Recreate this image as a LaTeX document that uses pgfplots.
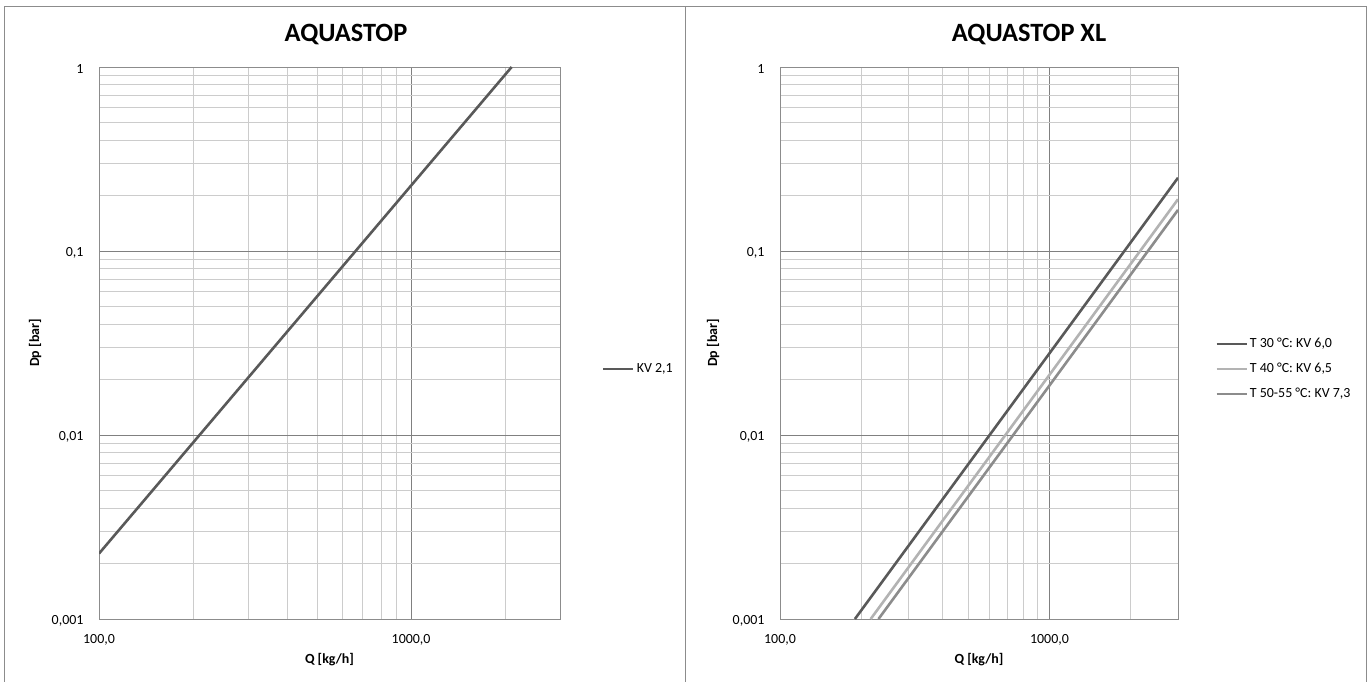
\documentclass[border=0pt]{standalone}
\usepackage{pgfplots}
\pgfplotsset{compat=1.18}
\usepackage{fontspec}
\setmainfont{Carlito}
\definecolor{dk}{HTML}{595959}
\definecolor{lt}{HTML}{B3B3B3}
\definecolor{md}{HTML}{8C8C8C}
\definecolor{frm}{HTML}{8C8C8C}
\pgfplotsset{
 every axis/.append style={
  scale only axis, anchor=south west,
  height=552bp, xmin=100, xmax=3000, ymin=0.001, ymax=1,
  xtick={100,1000}, xticklabels={{100,0},{1000,0}},
  ytick={0.001,0.01,0.1,1}, yticklabels={{0,001},{0,01},{0,1},1},
  minor xtick={200,300,400,500,600,700,800,900,2000},
  minor ytick={0.002,0.003,0.004,0.005,0.006,0.007,0.008,0.009,0.02,0.03,0.04,0.05,0.06,0.07,0.08,0.09,0.2,0.3,0.4,0.5,0.6,0.7,0.8,0.9},
  grid=both,
  major grid style={draw=black!50, line width=0.7bp},
  minor grid style={draw=black!20, line width=0.7bp},
  axis line style={draw=black!45, line width=0.8bp},
  major tick length=0pt, minor tick length=0pt,
  tick label style={font=\fontsize{14}{16}\selectfont},
  xticklabel style={yshift=-12bp},
  yticklabel style={xshift=-12bp, yshift=-2bp},
  xlabel={Q [kg/h]}, ylabel={Dp [bar]},
  label style={font=\fontsize{14}{16}\selectfont\bfseries},
  xlabel style={at={(axis description cs:0.5,0)}, anchor=center, yshift=-41bp},
  legend style={draw=none, fill=none, font=\fontsize{14}{16}\selectfont, anchor=west, row sep=10bp, inner sep=0pt, cells={anchor=west}},
 }
}
\begin{document}
\begin{tikzpicture}
\useasboundingbox (0bp,0bp) rectangle (1371bp,682bp);
\draw[frm, line width=1bp] (4bp,-3bp) -- (4bp,675bp) -- (685bp,675bp) -- (685bp,-3bp);
\draw[frm, line width=1bp] (685bp,675bp) -- (1366bp,675bp) -- (1366bp,-3bp);
\node[font=\fontsize{26.5}{30}\selectfont\bfseries, anchor=base] at (346bp,640bp) {AQUASTOP};
\node[font=\fontsize{26.5}{30}\selectfont\bfseries, anchor=base] at (1029bp,640bp) {AQUASTOP XL};
\begin{loglogaxis}[at={(99bp,63bp)}, width=461bp,
  ylabel style={at={(axis description cs:0,0.5)}, anchor=center, yshift=64bp},
  legend style={at={(1.091,0.453)}},
  legend image code/.code={\draw[#1] (0bp,0bp) -- (30bp,0bp);}]
\addplot[dk, line width=2.6bp] coordinates {(100,0.002268) (2100,1)};
\addlegendentry{KV 2,1}
\end{loglogaxis}
\begin{loglogaxis}[at={(780bp,63bp)}, width=398bp,
  ylabel style={at={(axis description cs:0,0.5)}, anchor=center, yshift=67bp},
  legend style={at={(1.093,0.453)}},
  legend image code/.code={\draw[#1] (0bp,0bp) -- (30bp,0bp);}]
\addplot[dk, line width=2.6bp] coordinates {(189.7,0.001) (3000,0.25)};
\addlegendentry{T 30 °C: KV 6,0}
\addplot[lt, line width=2.6bp] coordinates {(217,0.001) (3000,0.1911)};
\addlegendentry{T 40 °C: KV 6,5}
\addplot[md, line width=2.6bp] coordinates {(232,0.001) (3000,0.1672)};
\addlegendentry{T 50-55 °C: KV 7,3}
\end{loglogaxis}
\end{tikzpicture}
\end{document}
